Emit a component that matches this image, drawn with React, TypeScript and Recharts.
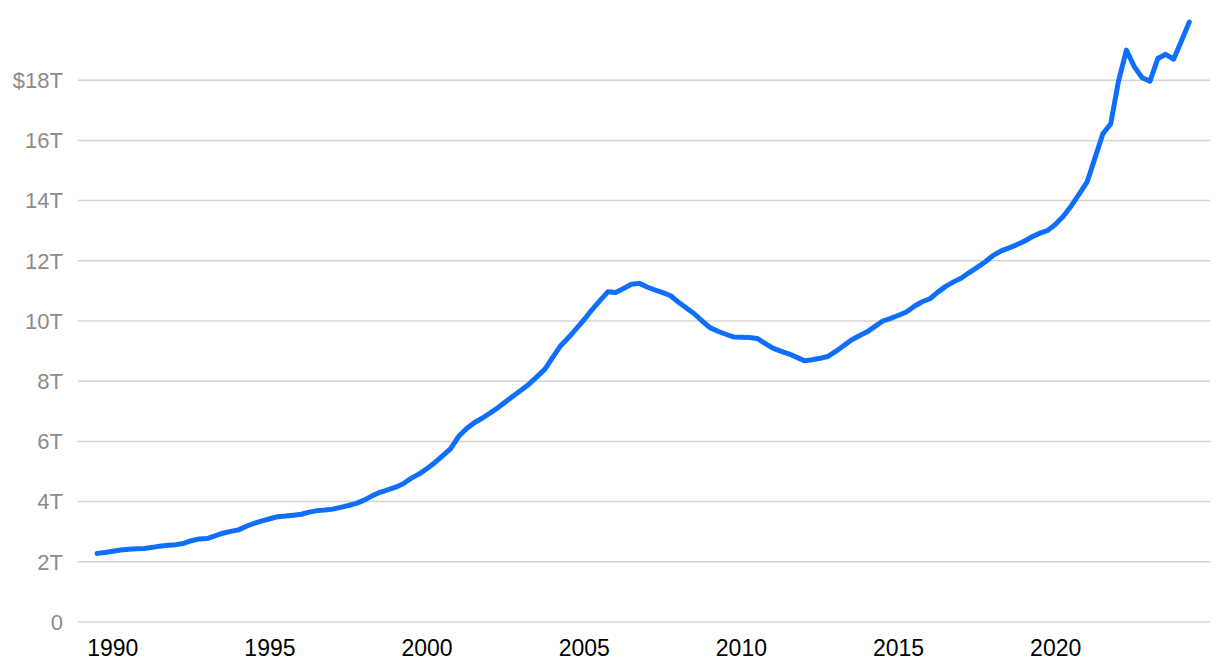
import { LineChart, Line, XAxis, YAxis, CartesianGrid } from 'recharts';

// quarterly values in trillions of dollars, starting 1989 Q3
const firstYear = 1989;
const firstQuarter = 3;

const values = [
  2.28, 2.31, // 1989
  2.35, 2.39, 2.42, 2.43, // 1990
  2.44, 2.48, 2.52, 2.55,
  2.57, 2.61, 2.7, 2.76,
  2.77, 2.86, 2.95, 3.01,
  3.06, 3.18, 3.28, 3.36,
  3.43, 3.5, 3.52, 3.55, // 1995
  3.58, 3.65, 3.7, 3.72,
  3.75, 3.81, 3.87, 3.94,
  4.05, 4.19, 4.31, 4.39,
  4.48, 4.6, 4.78, 4.92,
  5.1, 5.3, 5.53, 5.76, // 2000
  6.16, 6.42, 6.62, 6.77,
  6.94, 7.12, 7.32, 7.52,
  7.71, 7.91, 8.15, 8.4,
  8.8, 9.18, 9.45, 9.75,
  10.05, 10.38, 10.68, 10.97, // 2005
  10.95, 11.08, 11.22, 11.25,
  11.13, 11.03, 10.94, 10.84,
  10.62, 10.43, 10.24, 10.0,
  9.78, 9.66, 9.56, 9.47,
  9.46, 9.45, 9.42, 9.26, // 2010
  9.1, 9.0, 8.91, 8.8,
  8.68, 8.71, 8.76, 8.82,
  8.99, 9.18, 9.37, 9.51,
  9.64, 9.82, 10.0, 10.09,
  10.19, 10.3, 10.49, 10.64, // 2015
  10.74, 10.96, 11.15, 11.3,
  11.43, 11.61, 11.78, 11.96,
  12.17, 12.32, 12.42, 12.53,
  12.65, 12.8, 12.92, 13.01,
  13.22, 13.49, 13.83, 14.22, // 2020
  14.62, 15.42, 16.22, 16.55,
  17.98, 19.0, 18.45, 18.08,
  17.97, 18.72, 18.86, 18.7,
  19.3, 19.93, // 2024
];

const xTicks = [1990, 1995, 2000, 2005, 2010, 2015, 2020];
const yTicks = [0, 2, 4, 6, 8, 10, 12, 14, 16, 18];

const data = values.map((v, i) => {
  const n = firstQuarter - 1 + i;
  const year = firstYear + Math.floor(n / 4);
  const q = (n % 4) + 1;
  return { quarter: `${year} Q${q}`, t: year + (q - 1) / 4, value: v };
});

const font = 'Helvetica, Arial, "Liberation Sans", sans-serif';

const fmtY = (v: number) => (v === 0 ? '0' : v === 18 ? '$18T' : `${v}T`);

export default function App() {
  return (
    <div style={{ position: 'absolute', left: 0, top: 0, background: '#fff' }}>
      <LineChart
        width={1220}
        height={668}
        data={data}
        margin={{ top: 20, right: 10, bottom: 0, left: 0 }}
      >
        <CartesianGrid
          vertical={false}
          horizontalValues={yTicks}
          stroke="#d4d4d4"
          strokeWidth={1.5}
        />
        <XAxis
          dataKey="t"
          type="number"
          domain={[1988.893, 2024.909]}
          ticks={xTicks}
          interval={0}
          height={46}
          axisLine={false}
          tickLine={false}
          tickSize={0}
          tickMargin={18}
          tick={{ fill: '#000', fontSize: 23, fontFamily: font }}
        />
        <YAxis
          domain={[0, 20]}
          ticks={yTicks}
          interval={0}
          width={78}
          axisLine={false}
          tickLine={false}
          tickSize={0}
          tickMargin={15}
          tickFormatter={fmtY}
          tick={{ fill: '#8c8c8c', fontSize: 22, fontFamily: font }}
        />
        <Line
          type="linear"
          dataKey="value"
          stroke="#0f6efc"
          strokeWidth={5}
          strokeLinecap="round"
          strokeLinejoin="round"
          dot={false}
          isAnimationActive={false}
        />
      </LineChart>
    </div>
  );
}
